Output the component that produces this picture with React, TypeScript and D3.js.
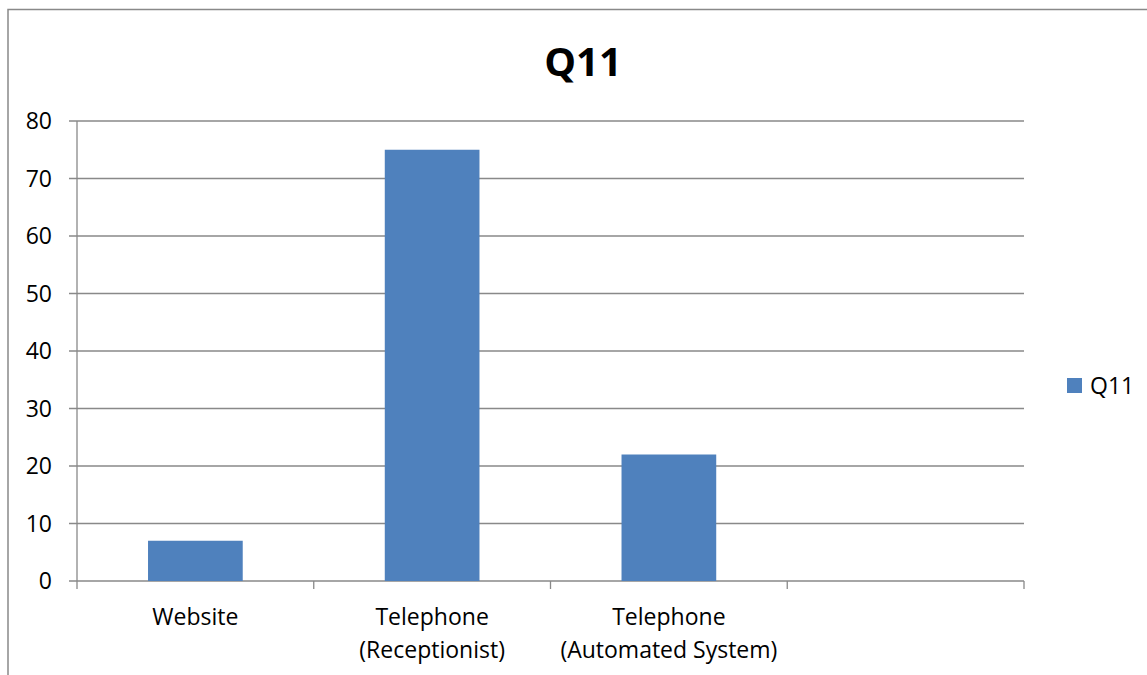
import React from "react";
import * as d3 from "d3";

const categories: string[][] = [["Website"], ["Telephone", "(Receptionist)"], ["Telephone", "(Automated System)"], [""]];
const values: (number | null)[] = [7, 75, 22, null];
const yTicks: number[] = [0, 10, 20, 30, 40, 50, 60, 70, 80];
const seriesName = "Q11";
const title = "Q11";

const W = 1147, H = 675;
const left = 77, right = 1024, top = 121, bottom = 581;
const FONT = "'Open Sans', 'Noto Sans', sans-serif";
const GRID = "#898989";
const BAR = "#4F81BD";

export default function App() {
  const keys = categories.map((_, i) => String(i));
  const x = d3.scaleBand<string>().domain(keys).range([left, right]).padding(0);
  const y = d3.scaleLinear().domain([0, 80]).range([bottom, top]);
  const bw = x.bandwidth() * 0.4;
  const step = x.step();
  return (
    <svg width={W} height={H} style={{ position: "absolute", left: 0, top: 0, background: "#fff" }}>
      <rect x={8} y={9.5} width={W + 20} height={H + 20} fill="#fff" stroke={GRID} strokeWidth={1.5} />
      <text x={583} y={76} textAnchor="middle" fontFamily={FONT} fontWeight="bold" fontSize={40} fill="#000">{title}</text>
      {yTicks.map((t) => (
        <g key={t}>
          <line x1={left - 8} x2={right} y1={y(t)} y2={y(t)} stroke={GRID} strokeWidth={1.3} />
          <text x={52} y={y(t)} dy="0.36em" textAnchor="end" fontFamily={FONT} fontSize={23} fill="#000">{t}</text>
        </g>
      ))}
      <line x1={left} x2={left} y1={top} y2={bottom} stroke={GRID} strokeWidth={1.3} />
      {keys.map((k, i) => values[i] == null ? null : (
        <rect key={k} x={x(k)! + (step - bw) / 2} y={y(values[i] as number)} width={bw} height={bottom - y(values[i] as number)} fill={BAR} />
      ))}
      {d3.range(keys.length + 1).map((i) => (
        <line key={i} x1={left + i * step} x2={left + i * step} y1={bottom} y2={bottom + 8} stroke={GRID} strokeWidth={1.3} />
      ))}
      {keys.map((k, i) => (
        <text key={k} textAnchor="middle" fontFamily={FONT} fontSize={23} fill="#000">
          {categories[i].map((line, j) => (
            <tspan key={j} x={x(k)! + step / 2} y={625 + j * 33}>{line}</tspan>
          ))}
        </text>
      ))}
      <rect x={1067} y={378} width={15} height={15} fill={BAR} />
      <text x={1090} y={386} dy="0.36em" fontFamily={FONT} fontSize={23} fill="#000">{seriesName}</text>
    </svg>
  );
}
